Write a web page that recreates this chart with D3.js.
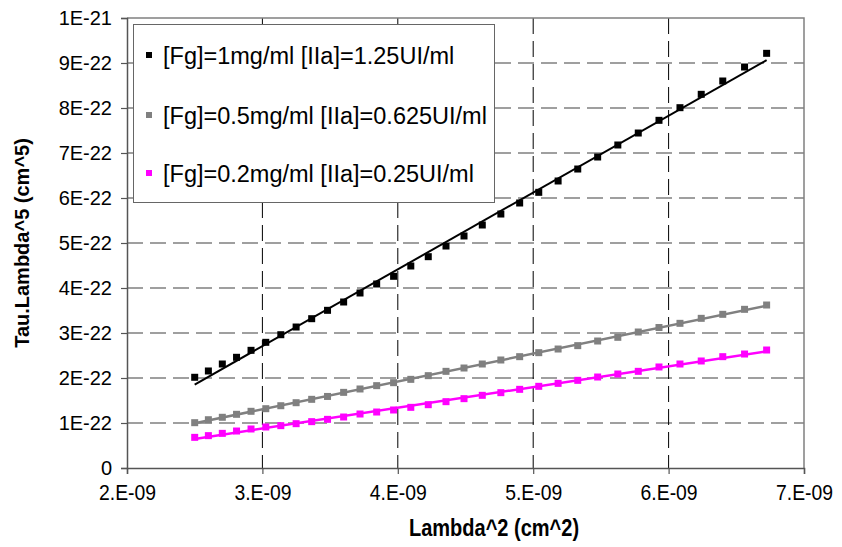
<!DOCTYPE html>
<html>
<head>
<meta charset="utf-8">
<script src="https://cdn.jsdelivr.net/npm/d3@7"></script>
<style>
  html, body { margin: 0; padding: 0; background: #fff; }
  svg { display: block; }
  text { font-family: "Liberation Sans", Arial, sans-serif; fill: #000; }
</style>
</head>
<body>
<svg id="chart" width="842" height="547"></svg>
<script>
// ---- DATA ----
const lambda2 = [2.500e-9, 2.601e-9, 2.704e-9, 2.809e-9, 2.916e-9, 3.025e-9, 3.136e-9, 3.249e-9, 3.364e-9, 3.481e-9,
                 3.600e-9, 3.721e-9, 3.844e-9, 3.969e-9, 4.096e-9, 4.225e-9, 4.356e-9, 4.489e-9, 4.624e-9, 4.761e-9,
                 4.900e-9, 5.041e-9, 5.184e-9, 5.329e-9, 5.476e-9, 5.625e-9, 5.776e-9, 5.929e-9, 6.084e-9, 6.241e-9,
                 6.400e-9, 6.561e-9, 6.724e-9];
const seriesFg1 = [2.016e-22, 2.156e-22, 2.311e-22, 2.460e-22, 2.615e-22, 2.793e-22, 2.962e-22, 3.133e-22, 3.318e-22, 3.504e-22,
                   3.689e-22, 3.889e-22, 4.089e-22, 4.260e-22, 4.489e-22, 4.696e-22, 4.933e-22, 5.156e-22, 5.400e-22, 5.644e-22,
                   5.889e-22, 6.126e-22, 6.378e-22, 6.644e-22, 6.911e-22, 7.178e-22, 7.444e-22, 7.726e-22, 8.007e-22, 8.304e-22,
                   8.600e-22, 8.911e-22, 9.215e-22];
const seriesFg05 = [1.007e-22, 1.073e-22, 1.127e-22, 1.193e-22, 1.260e-22, 1.318e-22, 1.384e-22, 1.451e-22, 1.526e-22, 1.590e-22,
                    1.681e-22, 1.756e-22, 1.830e-22, 1.896e-22, 1.970e-22, 2.052e-22, 2.148e-22, 2.222e-22, 2.311e-22, 2.400e-22,
                    2.474e-22, 2.563e-22, 2.644e-22, 2.719e-22, 2.822e-22, 2.904e-22, 3.022e-22, 3.122e-22, 3.215e-22, 3.326e-22,
                    3.415e-22, 3.526e-22, 3.622e-22];
const seriesFg02 = [0.681e-22, 0.719e-22, 0.770e-22, 0.822e-22, 0.867e-22, 0.911e-22, 0.941e-22, 0.985e-22, 1.030e-22, 1.081e-22,
                    1.133e-22, 1.200e-22, 1.244e-22, 1.289e-22, 1.348e-22, 1.407e-22, 1.474e-22, 1.541e-22, 1.615e-22, 1.674e-22,
                    1.748e-22, 1.815e-22, 1.881e-22, 1.948e-22, 2.022e-22, 2.089e-22, 2.148e-22, 2.245e-22, 2.311e-22, 2.378e-22,
                    2.474e-22, 2.533e-22, 2.622e-22];
const seriesNames = ["[Fg]=1mg/ml [IIa]=1.25UI/ml", "[Fg]=0.5mg/ml [IIa]=0.625UI/ml", "[Fg]=0.2mg/ml [IIa]=0.25UI/ml"];
const seriesColors = ["#000000", "#808080", "#ff00ff"];
const xTickValues = [2e-9, 3e-9, 4e-9, 5e-9, 6e-9, 7e-9];
const xTickLabels = ["2.E-09", "3.E-09", "4.E-09", "5.E-09", "6.E-09", "7.E-09"];
const yTickValues = [0, 1e-22, 2e-22, 3e-22, 4e-22, 5e-22, 6e-22, 7e-22, 8e-22, 9e-22, 1e-21];
const yTickLabels = ["0", "1E-22", "2E-22", "3E-22", "4E-22", "5E-22", "6E-22", "7E-22", "8E-22", "9E-22", "1E-21"];
const xTitle = "Lambda^2 (cm^2)";
const yTitle = "Tau.Lambda^5 (cm^5)";

// ---- LAYOUT ----
const plot = { left: 127, right: 804, top: 18, bottom: 468 };
const svg = d3.select("#chart");

const x = d3.scaleLinear().domain([2e-9, 7e-9]).range([plot.left, plot.right]);
const y = d3.scaleLinear().domain([0, 1e-21]).range([plot.bottom, plot.top]);

// gridlines
const grid = svg.append("g");
grid.selectAll("line.hg").data(yTickValues.slice(1, -1)).join("line")
  .attr("x1", plot.left).attr("x2", plot.right)
  .attr("y1", d => y(d)).attr("y2", d => y(d))
  .attr("stroke", "#808080").attr("stroke-width", 1.5).attr("stroke-dasharray", "16,7");
grid.selectAll("line.vg").data(xTickValues.slice(1, -1)).join("line")
  .attr("x1", d => x(d)).attr("x2", d => x(d))
  .attr("y1", plot.top).attr("y2", plot.bottom)
  .attr("stroke", "#000").attr("stroke-width", 1).attr("stroke-dasharray", "16,7");
// border top & right
svg.append("path")
  .attr("d", `M${plot.left},${plot.top}H${plot.right}V${plot.bottom}`)
  .attr("fill", "none").attr("stroke", "#808080").attr("stroke-width", 1.5);

// axes
const xAxis = d3.axisBottom(x).tickValues(xTickValues).tickFormat((d, i) => xTickLabels[i]).tickSize(6).tickPadding(10);
const yAxis = d3.axisLeft(y).tickValues(yTickValues).tickFormat((d, i) => yTickLabels[i]).tickSize(6).tickPadding(9);
const gx = svg.append("g").attr("transform", `translate(0,${plot.bottom})`).call(xAxis);
const gy = svg.append("g").attr("transform", `translate(${plot.left},0)`).call(yAxis);
[gx, gy].forEach(g => {
  g.select(".domain").attr("stroke", "#555").attr("stroke-width", 1.5);
  g.selectAll(".tick line").attr("stroke", "#555").attr("stroke-width", 1.2);
  g.selectAll(".tick text").attr("font-family", "Liberation Sans, Arial, sans-serif").attr("fill", "#000");
});
gy.selectAll(".tick text").attr("font-size", 20);
// x tick labels: slightly condensed, taller face
gx.selectAll(".tick text").attr("font-size", 22)
  .attr("transform", function() { return `translate(0,${+d3.select(this).attr("y")}) scale(0.88,1) translate(0,${-d3.select(this).attr("y")})`; });

// axis titles
svg.append("text").attr("transform", `translate(494,536) scale(0.87,1)`)
  .attr("text-anchor", "middle").attr("font-weight", "bold").attr("font-size", 23).text(xTitle);
svg.append("text").attr("transform", `translate(29,${(plot.top + plot.bottom) / 2}) rotate(-90)`)
  .attr("text-anchor", "middle").attr("font-weight", "bold").attr("font-size", 20).text(yTitle);

// series
const allSeries = [seriesFg1, seriesFg05, seriesFg02];
function regression(xs, ys) {
  const mx = d3.mean(xs), my = d3.mean(ys);
  let sxy = 0, sxx = 0;
  xs.forEach((xv, i) => { sxy += (xv - mx) * (ys[i] - my); sxx += (xv - mx) * (xv - mx); });
  const b = sxy / sxx;
  return { a: my - b * mx, b };
}
const line = d3.line().x(d => x(d[0])).y(d => y(d[1]));
const lineWidths = [2, 2.5, 2.5];
allSeries.forEach((vals, si) => {
  const g = svg.append("g");
  const fit = regression(lambda2, vals);
  const x0 = d3.min(lambda2), x1 = d3.max(lambda2);
  g.append("path").datum([[x0, fit.a + fit.b * x0], [x1, fit.a + fit.b * x1]])
    .attr("d", line).attr("fill", "none").attr("stroke", seriesColors[si]).attr("stroke-width", lineWidths[si]);
  const s = 7;
  g.selectAll("rect").data(vals.map((v, i) => [lambda2[i], v])).join("rect")
    .attr("x", d => x(d[0]) - s / 2).attr("y", d => y(d[1]) - s / 2)
    .attr("width", s).attr("height", s).attr("fill", seriesColors[si]);
});

// legend
const legend = svg.append("g");
legend.append("rect").attr("x", 133.5).attr("y", 24.5).attr("width", 361).attr("height", 178)
  .attr("fill", "#fff").attr("stroke", "#666").attr("stroke-width", 1);
const legendRows = [55, 115, 173];
seriesNames.forEach((name, i) => {
  legend.append("rect").attr("x", 146).attr("y", legendRows[i] - 3).attr("width", 6).attr("height", 6)
    .attr("fill", seriesColors[i]);
  legend.append("text").attr("x", 163).attr("y", legendRows[i] + 8.5)
    .attr("font-size", 23.5).text(name);
});
</script>
</body>
</html>
